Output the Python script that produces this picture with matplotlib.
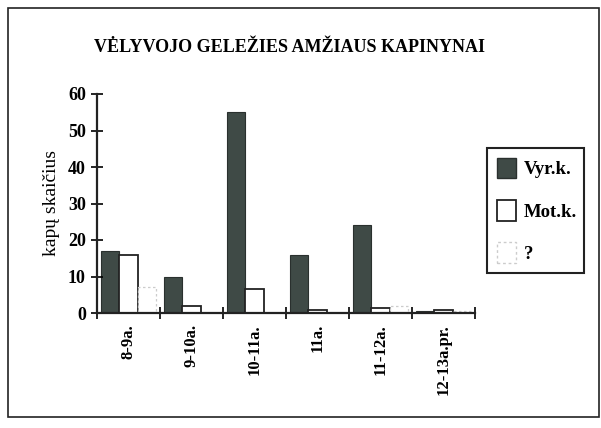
import matplotlib
matplotlib.use("Agg")
import matplotlib.pyplot as plt
from matplotlib.patches import Rectangle, Patch
import numpy as np

plt.rcParams['font.family'] = ['Liberation Serif', 'DejaVu Serif']

categories = ["8-9a.", "9-10a.", "10-11a.", "11a.", "11-12a.", "12-13a.pr."]
vyr = [17, 10, 55, 16, 24, 0.5]
mot = [16, 2, 6.5, 0.7, 1.3, 0.7]
unk = [7, 0, 0, 0, 2, 0.5]
series_labels = ["Vyr.k.", "Mot.k.", "?"]
yticks = [0, 10, 20, 30, 40, 50, 60]

dark = "#3f4a46"
fig = plt.figure(figsize=(6.01, 4.28), dpi=100)
fig.patch.set_facecolor("white")
ax = fig.add_axes([97/601, 1-313/428, (475-97)/601, (313-94)/428])

x = np.arange(len(categories))
w = 0.29
ax.bar(x - w, vyr, w, color=dark, edgecolor="#2a302e", linewidth=0.8)
ax.bar(x, mot, w, color="white", edgecolor="#222222", linewidth=1.3)
ax.bar(x + w, unk, w, color="white", edgecolor="#cccccc", linewidth=0.9, linestyle=(0, (2, 2)))

ax.set_xlim(-0.5, 5.5)
ax.set_ylim(0, 60)
ax.set_yticks(yticks)
ax.set_yticklabels([str(t) for t in yticks], fontsize=13, fontweight="bold")
ax.set_xticks(x)
ax.set_xticklabels(categories, rotation=90, fontsize=12, fontweight="bold")
ax.tick_params(axis="x", which="major", length=0, pad=8)
ax.set_xticks(np.arange(-0.5, 6.0, 1.0), minor=True)
ax.tick_params(axis="x", which="minor", direction="inout", length=8, width=1.2)
ax.tick_params(axis="y", direction="inout", length=8, width=1.2, pad=4)
for s in ["top", "right"]:
    ax.spines[s].set_visible(False)
for s in ["left", "bottom"]:
    ax.spines[s].set_linewidth(1.6)
    ax.spines[s].set_color("#222222")
ax.set_ylabel("kapų skaičius", fontsize=14, labelpad=6)

fig.text(290/601, 1-48/428, "VĖLYVOJO GELEŽIES AMŽIAUS KAPINYNAI",
         ha="center", va="center", fontsize=13, fontweight="bold")

handles = [Patch(facecolor=dark, edgecolor="#2a302e"),
           Patch(facecolor="white", edgecolor="#222222", linewidth=1.3),
           Patch(facecolor="white", edgecolor="#cccccc", linestyle=(0, (2, 2)))]
leg = fig.legend(handles, series_labels, loc="upper left",
                 bbox_to_anchor=(497/601, 1-158/428), frameon=False,
                 prop={"size": 13.5, "weight": "bold"},
                 handlelength=1.0, handleheight=1.3, labelspacing=1.15,
                 borderpad=0, handletextpad=0.45, borderaxespad=0)

fig.patches.append(Rectangle((487/601, 1-273/428), 97/601, 125/428,
                             transform=fig.transFigure, fill=False,
                             edgecolor="#222222", linewidth=1.5))

fig.patches.append(Rectangle((8/601, 1-417/428), 591/601, 409/428,
                             transform=fig.transFigure, fill=False,
                             edgecolor="#222222", linewidth=1.2))

fig.savefig("out.png", dpi=100, facecolor="white")
